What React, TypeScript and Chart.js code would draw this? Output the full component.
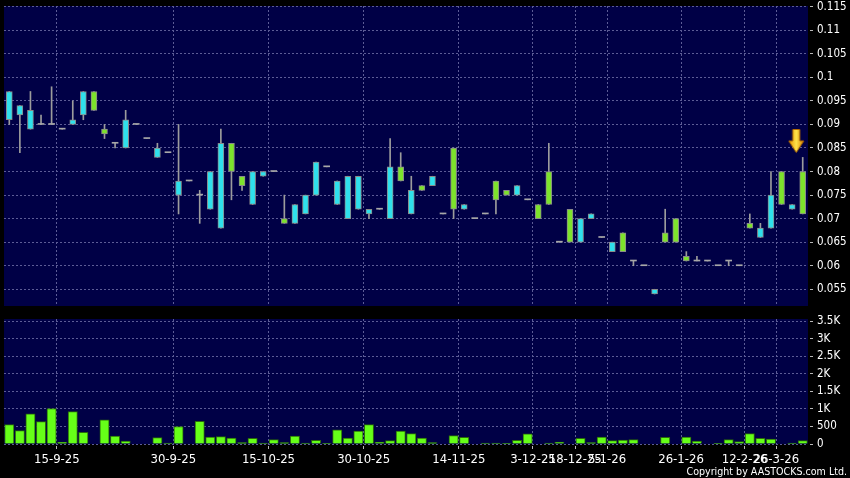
import React, { useEffect, useRef } from 'react';
import { Chart, registerables } from 'chart.js';

Chart.register(...registerables);

// ---- data (one entry per trading record, left to right) ----
const opens = [
  0.097, 0.094, 0.093, 0.090, 0.090, 0.089, 0.091, 0.097, 0.093, 0.088,
  0.086, 0.091, 0.090, 0.087, 0.085, 0.084, 0.078, 0.078, 0.075, 0.080,
  0.086, 0.080, 0.077, 0.080, 0.080, 0.080, 0.069, 0.073, 0.075, 0.082,
  0.081, 0.078, 0.079, 0.079, 0.072, 0.072, 0.081, 0.078, 0.076, 0.076,
  0.079, 0.071, 0.072, 0.073, 0.070, 0.071, 0.074, 0.075, 0.077, 0.074,
  0.070, 0.073, 0.065, 0.065, 0.070, 0.071, 0.066, 0.065, 0.063, 0.061,
  0.060, 0.055, 0.065, 0.065, 0.061, 0.061, 0.061, 0.060, 0.061, 0.060,
  0.068, 0.068, 0.075, 0.073, 0.073, 0.071,
];
const highs = [
  0.097, 0.094, 0.097, 0.092, 0.098, 0.089, 0.095, 0.097, 0.097, 0.090,
  0.086, 0.093, 0.090, 0.087, 0.086, 0.084, 0.090, 0.078, 0.076, 0.080,
  0.089, 0.086, 0.079, 0.080, 0.080, 0.080, 0.075, 0.073, 0.075, 0.082,
  0.081, 0.078, 0.079, 0.079, 0.072, 0.072, 0.087, 0.084, 0.079, 0.077,
  0.079, 0.071, 0.085, 0.073, 0.070, 0.071, 0.078, 0.076, 0.077, 0.074,
  0.073, 0.086, 0.065, 0.072, 0.070, 0.071, 0.066, 0.065, 0.067, 0.061,
  0.060, 0.055, 0.072, 0.070, 0.063, 0.062, 0.061, 0.060, 0.061, 0.060,
  0.071, 0.069, 0.080, 0.080, 0.073, 0.083,
];
const lows = [
  0.090, 0.084, 0.089, 0.090, 0.090, 0.089, 0.090, 0.091, 0.093, 0.087,
  0.085, 0.085, 0.090, 0.087, 0.083, 0.084, 0.071, 0.078, 0.069, 0.072,
  0.068, 0.074, 0.076, 0.073, 0.079, 0.080, 0.069, 0.069, 0.071, 0.075,
  0.081, 0.073, 0.070, 0.072, 0.070, 0.072, 0.070, 0.078, 0.071, 0.076,
  0.077, 0.071, 0.070, 0.072, 0.070, 0.071, 0.071, 0.075, 0.075, 0.074,
  0.070, 0.073, 0.065, 0.065, 0.065, 0.070, 0.066, 0.063, 0.063, 0.060,
  0.060, 0.054, 0.065, 0.065, 0.061, 0.061, 0.061, 0.060, 0.060, 0.060,
  0.068, 0.066, 0.068, 0.073, 0.072, 0.071,
];
const closes = [
  0.091, 0.092, 0.089, 0.090, 0.090, 0.089, 0.090, 0.092, 0.097, 0.089,
  0.086, 0.085, 0.090, 0.087, 0.083, 0.084, 0.075, 0.078, 0.075, 0.072,
  0.068, 0.086, 0.079, 0.073, 0.079, 0.080, 0.070, 0.069, 0.071, 0.075,
  0.081, 0.073, 0.070, 0.072, 0.071, 0.072, 0.070, 0.081, 0.071, 0.077,
  0.077, 0.071, 0.085, 0.072, 0.070, 0.071, 0.078, 0.076, 0.075, 0.074,
  0.073, 0.080, 0.065, 0.072, 0.065, 0.070, 0.066, 0.063, 0.067, 0.061,
  0.060, 0.054, 0.067, 0.070, 0.062, 0.061, 0.061, 0.060, 0.061, 0.060,
  0.069, 0.066, 0.068, 0.080, 0.072, 0.080,
];
const volumes = [
  552, 381, 857, 638, 1009, 48, 923, 333, 0, 685,
  228, 86, 0, 0, 181, 29, 495, 0, 647, 200,
  209, 171, 38, 162, 29, 124, 38, 228, 29, 105,
  19, 400, 171, 371, 552, 57, 95, 371, 295, 171,
  38, 0, 238, 190, 0, 29, 29, 19, 105, 286,
  0, 29, 57, 0, 162, 38, 200, 95, 114, 124,
  0, 0, 190, 0, 200, 86, 0, 19, 124, 67,
  295, 162, 143, 0, 29, 95,
];
const dateTickPositions = [4.5, 15.5, 24.5, 33.5, 42.5, 49.5, 53.5, 56.5, 63.5, 69.5, 72.5];
const dateTickLabels = [
  '15-9-25', '30-9-25', '15-10-25', '30-10-25', '14-11-25', '3-12-25',
  '18-12-25', '5-1-26', '26-1-26', '12-2-26', '26-3-26',
];
const priceTicks = [0.055, 0.06, 0.065, 0.07, 0.075, 0.08, 0.085, 0.09, 0.095, 0.1, 0.105, 0.11, 0.115];
const volumeTicks = [0, 500, 1000, 1500, 2000, 2500, 3000, 3500];
const arrowIndex = 75;
const arrowPrice = 0.0865;

// ---- styles ----
const NAVY = '#000046';
const GRID = '#5c5c96';
const UP = '#7de32c';
const DOWN = '#2fe0ec';
const FLAT = '#a8a8a8';
const WICK = '#9c9c9c';
const EDGE = '#8a8a8a';
const VOL = '#66ff18';
const VOL_EDGE = '#2a6a0a';
const FONT = "'DejaVu Sans Condensed', 'Liberation Sans', sans-serif";

const plotBackground = {
  id: 'plotBackground',
  beforeDraw(chart: any) {
    const { ctx, chartArea: a } = chart;
    ctx.save();
    ctx.fillStyle = NAVY;
    ctx.fillRect(a.left, a.top, a.right - a.left, a.bottom - a.top);
    ctx.restore();
  },
};

function makeArrow() {
  const c = document.createElement('canvas');
  c.width = 30;
  c.height = 24;
  const g = c.getContext('2d') as CanvasRenderingContext2D;
  const cx = 8.5;
  g.beginPath();
  g.moveTo(cx - 3.5, 0.5);
  g.lineTo(cx + 3.5, 0.5);
  g.lineTo(cx + 3.5, 12);
  g.lineTo(cx + 7.5, 12);
  g.lineTo(cx, 23.5);
  g.lineTo(cx - 7.5, 12);
  g.lineTo(cx - 3.5, 12);
  g.closePath();
  const grad = g.createLinearGradient(cx - 7.5, 0, cx + 7.5, 0);
  grad.addColorStop(0, '#e39200');
  grad.addColorStop(0.5, '#ffe24a');
  grad.addColorStop(1, '#d88600');
  g.fillStyle = grad;
  g.fill();
  g.strokeStyle = '#b06800';
  g.lineWidth = 1;
  g.stroke();
  return c;
}

function zeroPad(s: any) {
  s.paddingLeft = 0;
  s.paddingRight = 0;
  s.paddingTop = 0;
  s.paddingBottom = 0;
}

function xScale(showLabels: boolean, height: number) {
  return {
    type: 'linear',
    min: -0.5,
    max: opens.length - 0.5,
    offset: false,
    bounds: 'data',
    grid: {
      color: GRID,
      lineWidth: 1,
      offset: false,
      drawTicks: showLabels,
      tickLength: 5,
      tickColor: '#b8b8b8',
      tickBorderDash: [0, 2, 3, 20],
    },
    border: { display: false, dash: [2, 2] },
    afterBuildTicks: (s: any) => {
      s.ticks = dateTickPositions.map((v) => ({ value: v }));
    },
    afterFit: (s: any) => {
      s.height = height;
      zeroPad(s);
    },
    ticks: {
      display: showLabels,
      autoSkip: false,
      maxRotation: 0,
      minRotation: 0,
      padding: 3,
      color: '#ffffff',
      font: { family: FONT, size: 13 },
      callback: (_v: any, i: number) => dateTickLabels[i],
    },
  };
}

function yScale(min: number, max: number, ticks: number[], fmt: (v: number) => string) {
  return {
    type: 'linear',
    position: 'right',
    min,
    max,
    bounds: 'data',
    beginAtZero: false,
    grid: {
      color: GRID,
      lineWidth: 1,
      drawTicks: true,
      tickLength: 6,
      tickColor: '#b8b8b8',
      tickBorderDash: [0, 2, 3, 20],
    },
    border: { display: false, dash: [2, 2] },
    afterBuildTicks: (s: any) => {
      s.ticks = ticks.map((v) => ({ value: v }));
    },
    afterFit: (s: any) => {
      s.width = 42;
      zeroPad(s);
    },
    ticks: {
      padding: 3,
      color: '#ffffff',
      font: { family: FONT, size: 11.5 },
      callback: (v: any) => fmt(Number(v)),
    },
  };
}

export default function App() {
  const priceRef = useRef<HTMLCanvasElement>(null);
  const volRef = useRef<HTMLCanvasElement>(null);

  useEffect(() => {
    const idx = opens.map((_, i) => i);
    const bodyColor = (i: number) =>
      closes[i] > opens[i] ? UP : closes[i] < opens[i] ? DOWN : FLAT;

    const priceChart = new Chart(priceRef.current as HTMLCanvasElement, {
      type: 'bar',
      data: {
        datasets: [
          {
            label: 'body',
            data: idx.map((i) => ({ x: i, y: [opens[i], closes[i]] })),
            grouped: false,
            barPercentage: 1,
            categoryPercentage: 1,
            maxBarThickness: 6,
            minBarLength: 1,
            backgroundColor: (c: any) => bodyColor(c.dataIndex),
            borderColor: EDGE,
            borderWidth: (c: any) => (opens[c.dataIndex] === closes[c.dataIndex] ? 0 : 1),
            borderSkipped: false,
          },
          {
            label: 'wick',
            data: idx.map((i) => ({ x: i, y: [lows[i], highs[i]] })),
            grouped: false,
            barPercentage: 1,
            categoryPercentage: 1,
            maxBarThickness: 1,
            backgroundColor: WICK,
            borderWidth: 0,
          },
          {
            type: 'scatter',
            label: 'marker',
            data: [{ x: arrowIndex, y: arrowPrice }],
            pointStyle: makeArrow(),
            pointRadius: 6,
            pointHoverRadius: 6,
          },
        ] as any,
      },
      options: {
        animation: false,
        responsive: false,
        events: [],
        layout: { autoPadding: false, padding: { left: 4, top: 6, right: 0, bottom: 4 } },
        plugins: { legend: { display: false }, tooltip: { enabled: false } },
        scales: {
          x: xScale(false, 0),
          y: yScale(0.05145, 0.11515, priceTicks, (v) => String(+v.toFixed(3))),
        } as any,
      },
      plugins: [plotBackground],
    } as any);

    const volChart = new Chart(volRef.current as HTMLCanvasElement, {
      type: 'bar',
      data: {
        datasets: [
          {
            label: 'volume',
            data: idx.map((i) => ({ x: i, y: volumes[i] })),
            grouped: false,
            barPercentage: 1,
            categoryPercentage: 1,
            maxBarThickness: 9.3,
            backgroundColor: VOL,
            borderColor: VOL_EDGE,
            borderWidth: 1,
          },
        ] as any,
      },
      options: {
        animation: false,
        responsive: false,
        events: [],
        layout: { autoPadding: false, padding: { left: 4, top: 9, right: 0, bottom: 0 } },
        plugins: { legend: { display: false }, tooltip: { enabled: false } },
        scales: {
          x: xScale(true, 34),
          y: yScale(0, 3557, volumeTicks, (v) => (v >= 1000 ? v / 1000 + 'K' : String(v))),
        } as any,
      },
      plugins: [plotBackground],
    } as any);

    return () => {
      priceChart.destroy();
      volChart.destroy();
    };
  }, []);

  return (
    <div
      style={{
        position: 'absolute',
        left: 0,
        top: 0,
        width: 850,
        height: 478,
        background: '#000',
        overflow: 'hidden',
      }}
    >
      <canvas ref={priceRef} width={850} height={310} style={{ position: 'absolute', left: 0, top: 0 }} />
      <canvas ref={volRef} width={850} height={168} style={{ position: 'absolute', left: 0, top: 310 }} />
      <div
        style={{
          position: 'absolute',
          right: 3,
          top: 466,
          fontFamily: FONT,
          fontSize: '10.6px',
          lineHeight: '11px',
          color: '#ffffff',
          whiteSpace: 'nowrap',
        }}
      >
        Copyright by AASTOCKS.com Ltd.
      </div>
    </div>
  );
}
